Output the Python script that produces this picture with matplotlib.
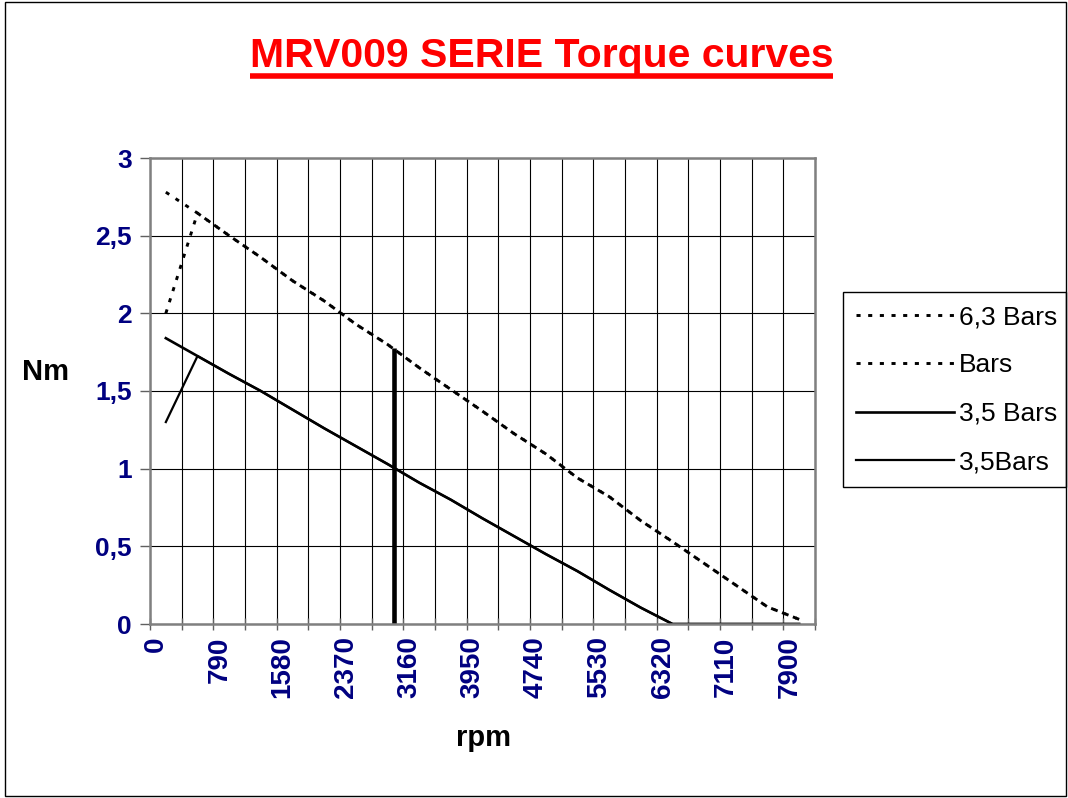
import matplotlib
matplotlib.use("Agg")
import matplotlib.pyplot as plt
import numpy as np
from matplotlib.lines import Line2D
from matplotlib.patches import Rectangle

plt.rcParams['font.family'] = ['Liberation Sans', 'DejaVu Sans']

# rpm categories (one every 395 rpm)
rpm = [0, 395, 790, 1185, 1580, 1975, 2370, 2765, 3160, 3555, 3950,
       4345, 4740, 5135, 5530, 5925, 6320, 6715, 7110, 7505, 7900]

# torque (Nm) per series
torque_63 = [2.78, 2.645, 2.50, 2.36, 2.21, 2.08, 1.93, 1.80, 1.65, 1.51, 1.37,
             1.225, 1.095, 0.94, 0.82, 0.665, 0.53, 0.39, 0.25, 0.11, 0.03]
torque_bars = [2.00, 2.645, 2.50, 2.36, 2.21, 2.08, 1.93, 1.80, 1.65, 1.51, 1.37,
               1.225, 1.095, 0.94, 0.82, 0.665, 0.53, 0.39, 0.25, 0.11, 0.03]
torque_35 = [1.84, 1.725, 1.61, 1.50, 1.38, 1.26, 1.145, 1.03, 0.91, 0.80, 0.68,
             0.565, 0.45, 0.34, 0.22, 0.105, 0.0, 0.0, 0.0, 0.0, 0.0]
torque_35b = [1.30, 1.725, 1.61, 1.50, 1.38, 1.26, 1.145, 1.03, 0.91, 0.80, 0.68,
              0.565, 0.45, 0.34, 0.22, 0.105, 0.0, 0.0, 0.0, 0.0, 0.0]
series_labels = ['6,3 Bars', 'Bars', '3,5 Bars', '3,5Bars']

# vertical marker bar
marker_rpm = 2850
marker_torque = 1.78

y_ticks = [0, 0.5, 1, 1.5, 2, 2.5, 3]
y_tick_labels = ['0', '0,5', '1', '1,5', '2', '2,5', '3']

W, H = 1068, 798
fig = plt.figure(figsize=(W / 100, H / 100), dpi=100)
ax = fig.add_axes([150 / W, 1 - 624 / H, 665 / W, 466 / H])

step = rpm[1] - rpm[0]
pos = np.arange(len(rpm)) + 0.5  # points sit in the middle of each category

dotted = (0, (1.4, 2.6))
ax.plot(pos, torque_63, color='black', lw=2.1, ls=dotted, label=series_labels[0])
ax.plot(pos, torque_bars, color='black', lw=2.1, ls=dotted, label=series_labels[1])
ax.plot(pos, torque_35, color='black', lw=1.9, label=series_labels[2])
ax.plot(pos, torque_35b, color='black', lw=1.6, label=series_labels[3])
ax.vlines(marker_rpm / step + 0.5, 0, marker_torque, color='black', lw=3.3)

ax.set_xlim(0, len(rpm))
ax.set_ylim(0, 3)

# category boundaries get tick marks + grid
bounds = np.arange(len(rpm) + 1)
ax.set_xticks(bounds)
ax.set_xticklabels([])
# every second rpm value is labelled (text nudged a bit right, like the original)
lab_idx = np.arange(0, len(rpm), 2)
ax.set_xticks(lab_idx + 0.19, minor=True)
ax.set_xticklabels([str(rpm[i]) for i in lab_idx], minor=True, rotation=90,
                   fontsize=20, fontweight='bold', color='#000080')
ax.tick_params(axis='x', which='minor', length=0, pad=9)

ax.set_yticks(y_ticks)
ax.set_yticklabels(y_tick_labels, fontsize=19, fontweight='bold', color='#000080')

ax.tick_params(axis='x', which='major', direction='inout', length=9, width=1, color='#606060')
ax.tick_params(axis='y', direction='out', length=7, width=1, color='#606060', pad=6)

ax.grid(True, which='major', color='black', lw=0.8)
ax.set_axisbelow(True)
for s in ax.spines.values():
    s.set_color('#808080')
    s.set_linewidth(1.8)

fig.text(45 / W, 1 - 372 / H, 'Nm', ha='center', va='center', fontsize=21, fontweight='bold')
fig.text(483 / W, 1 - 738 / H, 'rpm', ha='center', va='center', fontsize=21, fontweight='bold')

title = fig.text(541.5 / W, 1 - 67 / H, 'MRV009 SERIE Torque curves', ha='center',
                 va='baseline', fontsize=29.5, fontweight='bold', color='red')

leg = ax.legend(loc='upper left', bbox_to_anchor=(843 / W, 1 - 490 / H, 223 / W, 198 / H),
                bbox_transform=fig.transFigure, mode='expand', borderaxespad=0,
                fontsize=19, handlelength=3.7, handletextpad=0.2, borderpad=0.5,
                labelspacing=0.92, fancybox=False, edgecolor='black', framealpha=1)
leg.get_frame().set_linewidth(1)

# outer chart border
fig.add_artist(Rectangle((5 / W, 2 / H), 1061 / W, 794 / H, transform=fig.transFigure,
                         fill=False, ec='black', lw=1))

# underline the title
fig.canvas.draw()
bb = title.get_window_extent(fig.canvas.get_renderer())
uy = 1 - 76 / H
fig.add_artist(Line2D([bb.x0 / W, bb.x1 / W], [uy, uy], transform=fig.transFigure,
                      color='red', lw=4.0, solid_capstyle='butt'))

fig.savefig('out.png', dpi=100)
